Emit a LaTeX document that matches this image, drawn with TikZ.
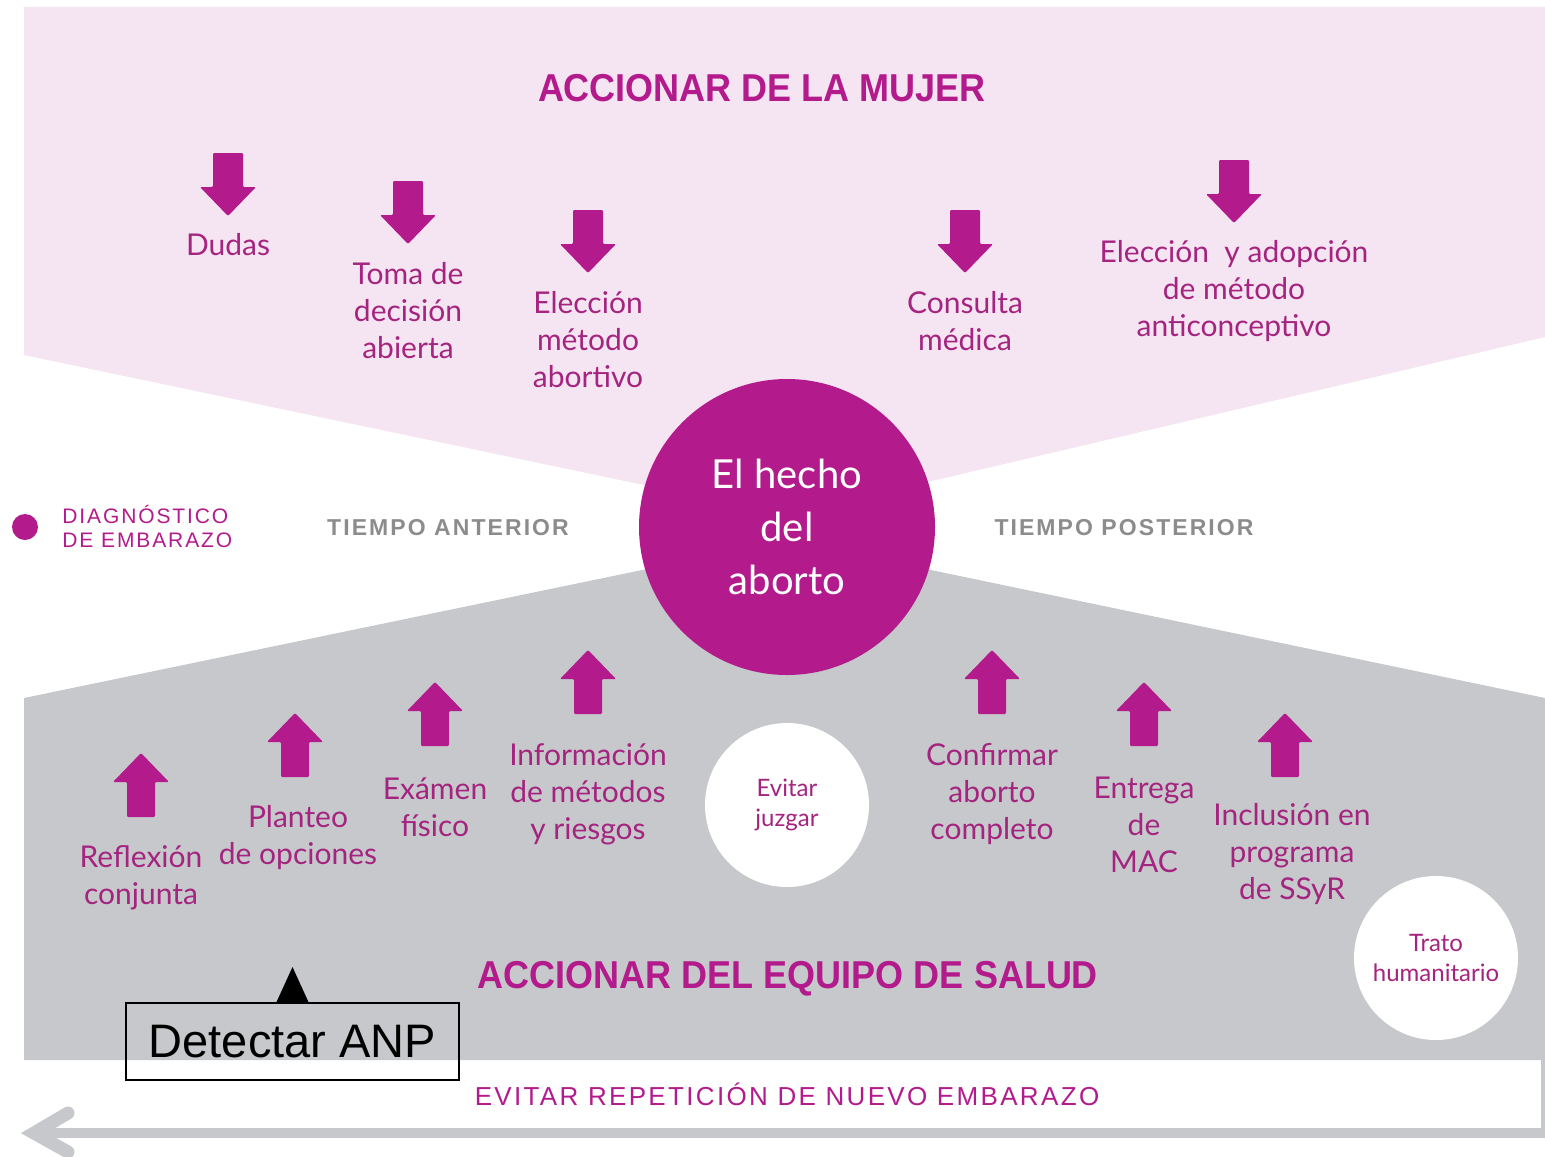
\documentclass[tikz,border=0pt]{standalone}
\usepackage{fontspec}
\setmainfont{Liberation Sans}
\newfontfamily\roundfont{Lato}
\newfontfamily\spacedfont[LetterSpace=9]{Liberation Sans}
\usetikzlibrary{calc}

\definecolor{magA}{HTML}{B31A8B}
\definecolor{pinkbg}{HTML}{F5E4F1}
\definecolor{greybg}{HTML}{C6C8CB}
\definecolor{labtxt}{HTML}{A4247F}
\definecolor{greytxt}{HTML}{8C8C8C}

\tikzset{
  lab/.style={align=center, text=labtxt, inner sep=0pt,
    font=\roundfont\fontsize{15}{18.5}\selectfont},
  head/.style={text=magA, inner sep=0pt, yscale=1.08, font=\bfseries\fontsize{18}{20}\selectfont},
  tiempo/.style={text=greytxt, inner sep=0pt, font=\spacedfont\bfseries\fontsize{11.5}{13}\selectfont},
  darr/.pic={\fill[magA, rounded corners=0.6pt] (-15,0) -- (15,0) -- (15,34) -- (28,34) -- (0,63) -- (-28,34) -- (-15,34) -- cycle;},
  uarr/.pic={\fill[magA, rounded corners=0.6pt] (-14,0) -- (14,0) -- (14,-35) -- (28,-35) -- (0,-64) -- (-28,-35) -- (-14,-35) -- cycle;}
}

\begin{document}
\begin{tikzpicture}
  [
    x=0.5pt, y=-0.5pt
  ]
  \useasboundingbox (0,0) rectangle (1545,1156);
  % bands
  \fill[pinkbg] (24,7) -- (1545,7) -- (1545,337) -- (787,515) -- (24,355) -- cycle;
  \fill[greybg] (24,698) -- (787,540) -- (1545,698) -- (1545,1060) -- (24,1060) -- cycle;
  \fill[greybg] (1541,1058) rectangle (1545,1138);
  \draw[greybg, line width=5pt] (1545,1133) -- (36,1133);
  \draw[greybg, line width=6.5pt, line cap=round] (68,1113) -- (34,1133) -- (68,1152);

  \node[head] at (762,88) (mujer) {ACCIONAR DE LA MUJER};
  \node[head] at (788,979) (equipo) {ACCIONAR DEL EQUIPO DE SALUD};
  \node[text=magA, inner sep=0pt, font=\spacedfont\fontsize{13}{15}\selectfont] at (787,1094) (evitar) {EVITAR REPETICIÓN DE NUEVO EMBARAZO};

  \fill[magA] (25,527) circle (13);
  \node[anchor=west, align=left, text=magA, inner sep=0pt,
    font=\spacedfont\fontsize{10.5}{12}\selectfont] at (62,526) (diag) {DIAGNÓSTICO\\DE EMBARAZO};
  \node[tiempo] at (448,528) (antes) {TIEMPO ANTERIOR};
  \node[tiempo] at (1124,528) (despues) {TIEMPO POSTERIOR};

  \node[circle, fill=magA, minimum size=148pt, inner sep=0pt, align=center, text=white,
    font=\roundfont\fontsize{20}{26.5}\selectfont] at (787,527) (hecho) {El hecho\\del\\aborto};
  \node[circle, fill=white, minimum size=82pt, inner sep=0pt, align=center, text=labtxt,
    font=\roundfont\fontsize{12}{15}\selectfont] at (787,805) (juzgar) {Evitar\\juzgar};
  \node[circle, fill=white, minimum size=82pt, inner sep=0pt, align=center, text=labtxt,
    font=\roundfont\fontsize{12}{15}\selectfont] at (1436,958) (trato) {Trato\\humanitario};

  % arriba
  \foreach \px/\py in {228/153, 408/181, 588/210, 965/210, 1234/160}{
    \pic at (\px,\py) {darr};
  }
  \node[lab] at (228,245) (dudas) {Dudas};
  \node[lab] at (408,311) (toma) {Toma de\\decisión\\abierta};
  \node[lab] at (588,340) (metodo) {Elección\\método\\abortivo};
  \node[lab] at (965,321) (consulta) {Consulta\\médica};
  \node[lab] at (1234,291) (adopcion) {Elección \ y adopción\\de método\\anticonceptivo};

  % abajo
  \foreach \px/\py in {141/817, 295/777, 435/746, 588/714, 992/714, 1144/746, 1285/777}{
    \pic at (\px,\py) {uarr};
  }
  \node[lab] at (141,878) (reflexion) {Reflexión\\conjunta};
  \node[lab] at (298,838) (planteo) {Planteo\\de opciones};
  \node[lab] at (435,807) (examen) {Exámen\\físico};
  \node[lab] at (588,794) (info) {Información\\de métodos\\y riesgos};
  \node[lab] at (992,794) (confirmar) {Confirmar\\aborto\\completo};
  \node[lab] at (1144,825) (entrega) {Entrega\\de\\MAC};
  \node[lab] at (1292,854) (inclusion) {Inclusión en\\programa\\de SSyR};

  \node[draw, line width=1pt, minimum width=166.5pt, minimum height=38.5pt, inner sep=0pt,
    font=\fontsize{23.5}{26}\selectfont] at (292.5,1041.5) (anp) {Detectar ANP};
  \fill (anp.north) ++(-16,0) -- ++(16,-35) -- ++(16,35) -- cycle;

\end{tikzpicture}
\end{document}
